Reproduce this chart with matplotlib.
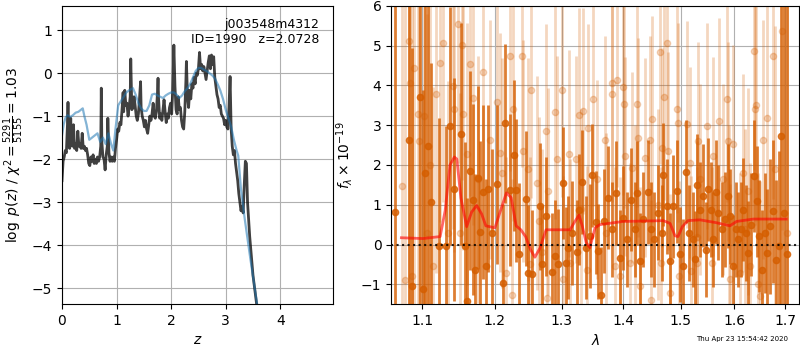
import numpy as np
import matplotlib
matplotlib.use("Agg")
import matplotlib.pyplot as plt
from matplotlib.ticker import NullLocator

# ---- left panel: log p(z) ----
z_pz = [0.00, 0.02, 0.04, 0.06, 0.08, 0.10, 0.11, 0.12, 0.14, 0.16, 0.17, 0.19, 0.21, 0.23,
        0.25, 0.27, 0.29, 0.31, 0.33, 0.35, 0.37, 0.39, 0.41, 0.43, 0.45, 0.47, 0.49, 0.51,
        0.53, 0.55, 0.57, 0.59, 0.61, 0.63, 0.65, 0.67, 0.69, 0.71, 0.72, 0.73, 0.75, 0.77,
        0.79, 0.81, 0.83, 0.84, 0.86, 0.88, 0.90, 0.92, 0.94, 0.96, 0.98, 1.00, 1.02, 1.04,
        1.06, 1.08, 1.10, 1.12, 1.13, 1.15, 1.17, 1.19, 1.21, 1.23, 1.25, 1.26, 1.27, 1.28,
        1.30, 1.32, 1.34, 1.36, 1.38, 1.40, 1.42, 1.44, 1.45, 1.47, 1.49, 1.51, 1.53, 1.55,
        1.57, 1.59, 1.61, 1.63, 1.65, 1.67, 1.69, 1.71, 1.73, 1.75, 1.76, 1.77, 1.79, 1.81,
        1.83, 1.85, 1.87, 1.89, 1.91, 1.93, 1.95, 1.97, 1.99, 2.01, 2.03, 2.05, 2.07, 2.09,
        2.11, 2.13, 2.15, 2.17, 2.19, 2.21, 2.23, 2.25, 2.27, 2.28, 2.30, 2.32, 2.34, 2.36,
        2.38, 2.40, 2.42, 2.44, 2.46, 2.48, 2.50, 2.52, 2.54, 2.56, 2.58, 2.60, 2.62, 2.64,
        2.66, 2.68, 2.70, 2.72, 2.74, 2.76, 2.78, 2.80, 2.82, 2.84, 2.86, 2.88, 2.90, 2.92,
        2.94, 2.96, 2.98, 3.00, 3.02, 3.04, 3.06, 3.08, 3.10, 3.12, 3.14, 3.16, 3.18, 3.20,
        3.22, 3.24, 3.26, 3.28, 3.30, 3.32, 3.34, 3.36, 3.38, 3.40, 3.44, 3.50, 3.56, 3.62]
logpz = [-2.50, -2.05, -1.95, -1.80, -1.85, -1.20, -0.68, -1.40, -1.75, -1.05, -1.60, -1.70,
         -1.20, -1.75, -1.65, -1.80, -1.35, -1.70, -1.65, -1.75, -1.40, -1.75, -1.70, -1.80,
         -1.75, -1.90, -2.10, -2.15, -1.95, -2.05, -1.90, -2.10, -2.00, -2.10, -1.95, -2.05,
         -1.95, -1.70, -0.35, -1.60, -1.95, -2.00, -2.25, -1.90, -1.70, -1.05, -1.85, -2.05,
         -1.95, -2.05, -1.95, -2.05, -1.75, -1.55, -1.30, -1.35, -1.15, -1.20, -0.85, -0.45,
         -0.90, -0.40, -0.75, -0.70, -1.00, -0.80, -0.55, 0.33, -0.30, -0.85, -0.80, -0.55,
         -0.75, -1.00, -1.10, -0.95, -0.60, -0.20, -0.80, -1.00, -1.10, -1.25, -1.10, -1.30,
         -1.40, -1.20, -1.00, -1.10, -0.95, -0.70, -1.00, -1.05, -0.90, -0.45, -0.12, -0.60,
         -1.05, -0.95, -1.10, -0.85, -0.62, -0.90, -1.15, -0.95, -1.05, -0.80, -0.70, -0.95,
         -0.40, 0.65, -0.30, -0.85, -0.95, -0.55, -0.85, -0.80, -1.10, -1.25, -1.30, -0.90,
         -0.20, 0.27, -0.55, -0.80, -0.40, -0.60, -0.25, -0.35, -0.10, -0.25, 0.00, -0.05,
         0.10, 0.48, 0.10, 0.20, 0.05, 0.15, 0.00, -0.15, 0.05, 0.25, 0.40, 0.10, 0.42, 0.20,
         0.38, -0.10, -0.30, -0.50, -0.60, -0.80, -0.75, -0.95, -1.00, -1.05, -1.20, -1.10,
         -1.25, -1.30, -0.80, -0.08, -1.30, -1.70, -1.90, -1.80, -2.10, -2.30, -2.50, -2.80,
         -3.00, -3.20, -3.10, -3.25, -2.60, -2.05, -2.10, -3.00, -3.80, -4.70, -5.30, -5.90]

z_prior = [0.00, 0.03, 0.06, 0.10, 0.15, 0.20, 0.25, 0.30, 0.35, 0.38, 0.41, 0.45, 0.50, 0.55,
           0.60, 0.65, 0.70, 0.75, 0.80, 0.85, 0.90, 0.94, 0.98, 1.03, 1.08, 1.13, 1.18, 1.23,
           1.30, 1.35, 1.40, 1.45, 1.50, 1.55, 1.60, 1.65, 1.70, 1.75, 1.80, 1.85, 1.90, 1.95,
           2.00, 2.05, 2.10, 2.15, 2.20, 2.25, 2.30, 2.35, 2.40, 2.45, 2.50, 2.55, 2.60, 2.65,
           2.70, 2.75, 2.80, 2.85, 2.90, 2.95, 3.00, 3.05, 3.10, 3.15, 3.20, 3.23, 3.28, 3.35,
           3.45, 3.55, 3.62]
logp_prior = [-1.45, -1.20, -1.05, -0.98, -1.02, -0.98, -0.92, -0.90, -0.85, -0.82, -1.00,
              -1.20, -1.55, -1.50, -1.45, -1.40, -1.60, -1.50, -1.65, -1.40, -1.65, -1.80,
              -1.30, -0.75, -0.65, -0.55, -0.45, -0.40, -0.35, -0.50, -0.70, -0.82, -0.88,
              -0.88, -0.75, -0.50, -0.48, -0.52, -0.55, -0.58, -0.52, -0.48, -0.45, -0.45,
              -0.50, -0.58, -0.52, -0.42, -0.35, -0.25, -0.10, 0.05, 0.12, 0.12, 0.08, 0.05,
              0.00, -0.05, -0.12, -0.25, -0.40, -0.60, -0.85, -1.05, -1.25, -1.55, -1.80,
              -1.92, -2.70, -3.40, -4.30, -5.15, -5.75]

# ---- right panel: spectrum ----
wave_a = [1.0646, 1.0829, 1.0869, 1.0969, 1.1013, 1.1039, 1.1079, 1.1115, 1.1218, 1.1318,
          1.1376, 1.1431, 1.1522, 1.1578, 1.1609, 1.1648, 1.1685, 1.1722, 1.1755, 1.1792,
          1.1826, 1.1877, 1.1906, 1.1954, 1.2031, 1.2114, 1.2152, 1.2221, 1.2284, 1.2309,
          1.2358, 1.2457, 1.2482, 1.2552, 1.2668, 1.2694, 1.2755, 1.2847, 1.2898, 1.2950,
          1.3018, 1.3065, 1.3106, 1.3160, 1.3238, 1.3281, 1.3329, 1.3383, 1.3452, 1.3489,
          1.3544, 1.3577, 1.3636, 1.3685, 1.3740, 1.3807, 1.3873, 1.3945, 1.4001, 1.4057,
          1.4130, 1.4199, 1.4227, 1.4284, 1.4341, 1.4417, 1.4474, 1.4532, 1.4591, 1.4660,
          1.4690, 1.4749, 1.4808, 1.4867, 1.4927, 1.4987, 1.5047, 1.5095, 1.5156, 1.5218,
          1.5259, 1.5302, 1.5351, 1.5401, 1.5456, 1.5505, 1.5549, 1.5599, 1.5649, 1.5692,
          1.5756, 1.5818, 1.5870, 1.5913, 1.5965, 1.6028, 1.6073, 1.6120, 1.6171, 1.6223,
          1.6268, 1.6320, 1.6379, 1.6432, 1.6484, 1.6537, 1.6596, 1.6642, 1.6696, 1.6750,
          1.6817, 1.6871, 1.6918, 1.6979, 1.7046]
flux_a = [0.83, 2.62, -1.05, 3.72, -1.12, 1.79, 2.48, 1.06, -0.03, -0.03,
          2.98, 1.39, 2.78, -0.03, -1.43, 1.86, 1.13, -0.63, 1.68, 0.31,
          1.32, -0.55, 1.40, 0.29, 1.51, -0.98, 3.05, 1.37, 2.24, 1.36,
          -0.25, 1.15, -0.71, -0.73, 0.96, -0.50, 0.71, -0.70, -0.28, -0.50,
          1.55, -0.46, -0.08, 0.29, -0.19, 0.88, 1.57, -0.08, 0.21, 1.74,
          0.56, -0.17, -1.26, 0.59, 1.18, 0.38, 1.30, -0.34, 0.67, 0.13,
          1.13, 0.38, 1.30, -0.42, 0.63, 1.32, 0.38, 0.13, 0.80, 0.29,
          1.76, 0.96, -0.42, 0.96, 1.34, -0.25, -0.55, 1.83, 0.29, 0.13,
          -0.36, 1.49, 0.88, 1.23, -0.13, 1.39, 0.88, 0.13, 1.32, 0.80,
          0.38, 0.63, 1.22, 0.71, -0.55, 0.38, 0.13, 0.38, 0.88, 0.29,
          -0.21, 0.50, 1.72, 1.09, 0.21, -0.63, 0.29, -0.21, 0.46, 0.84,
          -0.38, -0.04, 2.73, 0.80, -0.25]
err_a = [9.0, 6.0, 6.0, 5.5, 5.0, 4.5, 4.0, 3.5, 3.2, 3.0,
         3.0, 2.8, 2.8, 2.6, 2.6, 2.5, 2.4, 2.4, 2.3, 2.3,
         2.2, 2.2, 2.1, 2.1, 2.0, 2.0, 2.0, 1.9, 1.9, 1.8,
         1.8, 1.7, 1.7, 1.6, 1.6, 1.5, 1.5, 1.5, 1.4, 1.4,
         1.4, 1.4, 1.3, 1.3, 1.3, 1.4, 1.3, 1.3, 1.3, 1.3,
         1.3, 1.2, 1.2, 1.3, 1.3, 1.2, 1.3, 1.2, 1.3, 1.2,
         1.3, 1.2, 1.3, 1.2, 1.2, 1.3, 1.2, 1.2, 1.2, 1.2,
         1.3, 1.2, 1.2, 1.3, 1.3, 1.2, 1.2, 1.3, 1.2, 1.2,
         1.2, 1.3, 1.2, 1.3, 1.2, 1.3, 1.2, 1.2, 1.3, 1.2,
         1.2, 1.2, 1.3, 1.2, 1.3, 1.2, 1.2, 1.2, 1.3, 1.2,
         1.3, 1.3, 1.4, 1.4, 1.4, 1.5, 1.5, 1.6, 1.7, 1.8,
         2.0, 2.4, 6.0, 9.0, 9.0]

wave_b = [1.0732, 1.0774, 1.0829, 1.0840, 1.0862, 1.0892, 1.0947, 1.0960, 1.1026, 1.1058,
          1.1102, 1.1146, 1.1182, 1.1236, 1.1281, 1.1349, 1.1410, 1.1418, 1.1479, 1.1509,
          1.1541, 1.1555, 1.1601, 1.1648, 1.1694, 1.1764, 1.1835, 1.1930, 1.2031, 1.2075,
          1.2108, 1.2157, 1.2221, 1.2246, 1.2270, 1.2393, 1.2417, 1.2492, 1.2517, 1.2532,
          1.2618, 1.2650, 1.2694, 1.2760, 1.2770, 1.2796, 1.2898, 1.2924, 1.3011, 1.3027,
          1.3117, 1.3133, 1.3228, 1.3281, 1.3300, 1.3344, 1.3398, 1.3425, 1.3505, 1.3560,
          1.3696, 1.3720, 1.3807, 1.3817, 1.3862, 1.3900, 1.3945, 1.4001, 1.4015, 1.4029,
          1.4113, 1.4142, 1.4200, 1.4227, 1.4255, 1.4284, 1.4370, 1.4457, 1.4470, 1.4486,
          1.4600, 1.4631, 1.4645, 1.4660, 1.4707, 1.4749, 1.4778, 1.4808, 1.4927, 1.4957,
          1.4970, 1.5108, 1.5168, 1.5180, 1.5290, 1.5300, 1.5320, 1.5351, 1.5474, 1.5568,
          1.5599, 1.5711, 1.5787, 1.5850, 1.5881, 1.5900, 1.5913, 1.5977, 1.6106, 1.6171,
          1.6200, 1.6268, 1.6300, 1.6379, 1.6398, 1.6418, 1.6464, 1.6497, 1.6563, 1.6629,
          1.6762, 1.6797, 1.6932, 1.7035]
flux_b = [1.47, -0.90, 5.12, 4.07, -0.80, 4.43, 3.27, 2.60, 3.23, 0.30,
          2.00, -0.55, 3.78, 4.57, 5.06, 0.30, 3.99, 3.40, 5.54, 0.30,
          5.03, 3.27, 2.27, 4.53, 3.69, 1.64, 4.34, 2.64, 3.59, 2.31,
          1.80, -0.71, 4.74, -1.26, 3.40, 4.74, 2.35, 1.89, -0.50, 3.88,
          1.55, 0.60, -0.20, 2.85, -1.34, 1.34, 3.34, 2.14, 3.89, -0.88,
          2.28, -0.46, 2.14, 3.25, 0.90, 3.36, -0.63, 2.94, 3.67, 1.64,
          2.64, 0.30, 3.78, 4.07, -0.55, 4.14, -0.80, 3.95, 3.53, 2.22,
          -0.46, 1.93, 0.50, 3.54, 2.69, -1.05, 2.18, 2.64, -1.39, 3.15,
          1.00, 4.83, -0.46, 2.43, 3.71, 5.08, 2.35, -1.22, 3.40, 3.06,
          -0.80, 3.02, 2.06, -0.67, -0.46, 0.20, 2.60, 1.64, 2.98, -0.46,
          2.22, 3.10, 1.64, 3.67, 2.60, 0.60, -0.88, 2.52, -0.71, 1.80,
          0.40, 1.34, -0.55, 4.87, 3.40, 3.50, -1.00, -1.30, 2.64, 3.19,
          4.74, 1.89, 5.37, 0.29]
err_b = [8.0, 8.0, 7.0, 7.0, 7.0, 6.5, 6.5, 6.0, 5.5, 5.5,
         5.0, 4.5, 4.5, 4.0, 4.0, 3.8, 3.6, 3.6, 3.5, 3.5,
         3.4, 3.4, 3.3, 3.3, 3.2, 3.1, 3.1, 3.0, 3.0, 3.0,
         2.9, 2.9, 2.9, 2.9, 2.8, 2.8, 2.8, 2.8, 2.7, 2.7,
         2.7, 2.6, 2.6, 2.7, 2.6, 2.6, 2.7, 2.6, 2.7, 2.6,
         2.6, 2.6, 2.6, 2.7, 2.5, 2.6, 2.6, 2.6, 2.7, 2.5,
         2.6, 2.5, 2.7, 2.7, 2.5, 2.7, 2.5, 2.7, 2.6, 2.5,
         2.5, 2.4, 2.5, 2.6, 2.5, 2.5, 2.5, 2.6, 2.5, 2.6,
         2.4, 2.8, 2.4, 2.5, 2.6, 2.8, 2.5, 2.5, 2.6, 2.5,
         2.4, 2.6, 2.4, 2.4, 2.4, 2.4, 2.5, 2.4, 2.6, 2.4,
         2.5, 2.6, 2.4, 2.6, 2.5, 2.4, 2.4, 2.5, 2.5, 2.5,
         2.5, 2.6, 2.6, 3.0, 2.9, 2.9, 2.8, 2.9, 3.0, 3.2,
         3.6, 3.6, 5.0, 6.5]

wave_model = [1.0725, 1.1006, 1.1236, 1.1304, 1.1370, 1.1430, 1.1464, 1.1520, 1.1600, 1.1670,
              1.1740, 1.1810, 1.1870, 1.2000, 1.2075, 1.2167, 1.2236, 1.2310, 1.2380, 1.2450,
              1.2525, 1.2590, 1.2670, 1.2760, 1.3010, 1.3133, 1.3210, 1.3276, 1.3330, 1.3390,
              1.3450, 1.3533, 1.3614, 1.3995, 1.4690, 1.4810, 1.4897, 1.4950, 1.5030, 1.5130,
              1.5350, 1.5650, 1.5913, 1.6040, 1.6365, 1.7025]
flux_model = [0.17, 0.15, 0.20, 0.85, 2.00, 2.20, 2.15, 1.17, 0.45, 0.82,
              0.98, 0.77, 0.47, 0.42, 0.82, 1.30, 1.18, 0.47, 0.37, 0.20,
              -0.13, -0.32, -0.08, 0.37, 0.37, 0.37, 0.58, 0.74, 0.45, 0.05,
              -0.08, 0.42, 0.50, 0.58, 0.60, 0.53, 0.22, 0.20, 0.45, 0.60,
              0.62, 0.55, 0.47, 0.58, 0.64, 0.64]

wave_ticks = [1.1, 1.2, 1.3, 1.4, 1.5, 1.6, 1.7]
ORANGE = (0.835, 0.369, 0.0)

fig = plt.figure(figsize=(8, 3.5), dpi=100)
ax1 = fig.add_axes([0.0775, 0.131, 0.339, 0.852])
ax2 = fig.add_axes([0.489, 0.131, 0.510, 0.852])

# p(z)
ax1.plot(z_pz, logpz, color="k", alpha=0.75, lw=2)
ax1.plot(z_prior, logp_prior, color="tab:blue", alpha=0.55, lw=1.6)
ax1.set_xlim(0, 4.97)
ax1.set_ylim(-5.37, 1.56)
ax1.set_xticks([0, 1, 2, 3, 4])
ax1.set_yticks([-5, -4, -3, -2, -1, 0, 1])
ax1.grid()
ax1.set_xlabel(r"$z$")
ax1.set_ylabel(r"$\log\ p(z)$ / $\chi^2=\frac{5291}{5155}=1.03$")
ax1.text(0.95, 0.96, "j003548m4312\nID=1990   z=2.0728", ha="right", va="top",
         transform=ax1.transAxes, fontsize=9)

# spectrum
ax2.errorbar(wave_b, flux_b, yerr=err_b, color=ORANGE, alpha=0.25, marker="o", ms=4.5,
             linestyle="None", elinewidth=2.0)
ax2.errorbar(wave_a, flux_a, yerr=err_a, color=ORANGE, alpha=0.8, marker="o", ms=4.5,
             linestyle="None", elinewidth=2.0)
ax2.plot(wave_model, flux_model, color="r", alpha=0.6, lw=2, zorder=5)
ax2.axhline(0, color="k", ls=":", lw=1.5, alpha=0.85, zorder=6)
ax2.set_xscale("log")
ax2.set_xlim(1.0595, 1.7293)
ax2.set_ylim(-1.5, 6)
ax2.set_xticks(wave_ticks)
ax2.set_xticklabels([f"{w:.1f}" for w in wave_ticks])
ax2.xaxis.set_minor_locator(NullLocator())
ax2.set_yticks([-1, 0, 1, 2, 3, 4, 5, 6])
ax2.grid()
ax2.set_xlabel(r"$\lambda$")
ax2.set_ylabel(r"$f_\lambda\times10^{-19}$")

fig.text(0.985, 0.031, "Thu Apr 23 15:54:42 2020", ha="right", va="center", fontsize=5)

fig.savefig("out.png", dpi=100)
